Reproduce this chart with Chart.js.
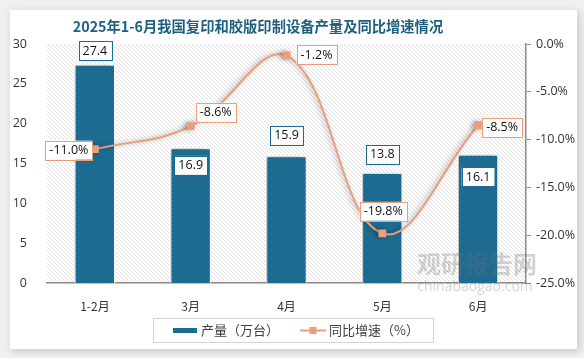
<!DOCTYPE html>
<html>
<head>
<meta charset="utf-8">
<script src="https://cdn.jsdelivr.net/npm/chart.js@4"></script>
<style>
  body { margin: 0; background: #f0f0f0; }
  canvas { display: block; }
</style>
</head>
<body>
<canvas id="myChart" width="584" height="358"></canvas>
<script>
const categories = ['1-2月', '3月', '4月', '5月', '6月'];
const output = [27.4, 16.9, 15.9, 13.8, 16.1];
const growth = [-11.0, -8.6, -1.2, -19.8, -8.5];
const leftTicks = [0, 5, 10, 15, 20, 25, 30];
const rightTicks = [0, -5, -10, -15, -20, -25];

const title = '2025年1-6月我国复印和胶版印制设备产量及同比增速情况';
const barName = '产量（万台）';
const lineName = '同比增速（%）';

const blue = '#1e6b92';
const salmon = '#ea9e7c';
const numFont = '"Open Sans", "Noto Sans CJK SC", sans-serif';
const cjkFont = '"Noto Sans CJK SC", sans-serif';

// label box offsets from the bar top / point (dx, dy of box centre)
const barLabelDy = [-14, 17, -21, -19, 22];
const lineLabelOffset = [[-26, 1], [25, -14], [30, -1], [1, -22], [24, 2]];

function labelBox(ctx, text, cx, cy, border) {
  ctx.font = '12.5px ' + numFont;
  const w = ctx.measureText(text).width + 8;
  const h = 19;
  ctx.fillStyle = '#fff';
  ctx.fillRect(cx - w / 2, cy - h / 2, w, h);
  ctx.strokeStyle = border;
  ctx.lineWidth = 1;
  ctx.strokeRect(Math.round(cx - w / 2) + 0.5, Math.round(cy - h / 2) + 0.5, Math.round(w), h);
  ctx.fillStyle = '#111';
  ctx.textAlign = 'center';
  ctx.textBaseline = 'middle';
  ctx.fillText(text, cx, cy + 0.5);
}

const decor = {
  id: 'decor',
  beforeDraw(chart) {
    const ctx = chart.ctx;
    const a = chart.chartArea;
    ctx.save();
    ctx.fillStyle = '#f0f0f0';
    ctx.fillRect(0, 0, chart.width, chart.height);
    ctx.shadowColor = 'rgba(0,0,0,0.18)';
    ctx.shadowBlur = 8;
    ctx.shadowOffsetX = 2;
    ctx.shadowOffsetY = 2;
    ctx.fillStyle = '#fff';
    ctx.fillRect(10, 10, 567, 339);
    ctx.restore();

    // hatched plot background
    ctx.save();
    ctx.beginPath();
    ctx.rect(a.left, a.top, a.right - a.left, a.bottom - a.top);
    ctx.clip();
    ctx.strokeStyle = '#dadada';
    ctx.lineWidth = 0.8;
    const h = a.bottom - a.top;
    ctx.beginPath();
    for (let i = -h; i < a.right - a.left; i += 4) {
      ctx.moveTo(a.left + i, a.top);
      ctx.lineTo(a.left + i + h, a.bottom);
    }
    ctx.stroke();
    ctx.restore();

    ctx.save();
    ctx.font = 'bold 14.3px ' + cjkFont;
    ctx.fillStyle = '#1f5f80';
    ctx.textAlign = 'center';
    ctx.textBaseline = 'middle';
    ctx.fillText(title, 258, 27);
    ctx.restore();
  },
  beforeDatasetDraw(chart) {
    const ctx = chart.ctx;
    ctx.save();
    ctx.shadowColor = 'rgba(0,0,0,0.35)';
    ctx.shadowBlur = 5;
    ctx.shadowOffsetX = -2;
  },
  afterDatasetDraw(chart) {
    chart.ctx.restore();
  },
  afterDatasetsDraw(chart) {
    const ctx = chart.ctx;
    ctx.save();
    // watermark
    ctx.fillStyle = 'rgba(110,110,110,0.3)';
    ctx.textAlign = 'center';
    ctx.textBaseline = 'middle';
    ctx.font = 'bold 24px ' + cjkFont;
    ctx.fillText('观研报告网', 477, 264);
    ctx.font = '14px ' + numFont;
    ctx.fillText('chinabaogao.com', 475, 287);

    const bars = chart.getDatasetMeta(1).data;
    bars.forEach((el, i) => {
      labelBox(ctx, output[i].toFixed(1), el.x, el.y + barLabelDy[i], blue);
    });
    const pts = chart.getDatasetMeta(0).data;
    pts.forEach((el, i) => {
      labelBox(ctx, growth[i].toFixed(1) + '%', el.x + lineLabelOffset[i][0], el.y + lineLabelOffset[i][1], salmon);
    });

    // legend
    ctx.strokeStyle = '#d4d4d4';
    ctx.lineWidth = 1;
    ctx.strokeRect(153.5, 318.5, 280, 24);
    ctx.fillStyle = blue;
    ctx.fillRect(173, 328, 24, 5);
    ctx.fillStyle = '#404040';
    ctx.font = '13px ' + cjkFont;
    ctx.textAlign = 'left';
    ctx.fillText(barName, 201, 330.5);
    ctx.strokeStyle = salmon;
    ctx.lineWidth = 2;
    ctx.beginPath();
    ctx.moveTo(300, 330.5);
    ctx.lineTo(326, 330.5);
    ctx.stroke();
    ctx.fillStyle = salmon;
    ctx.fillRect(309.5, 327, 7, 7);
    ctx.fillStyle = '#404040';
    ctx.fillText(lineName, 329, 330.5);
    ctx.restore();
  }
};

const ctx = document.getElementById('myChart');

const data = {
  labels: categories,
  datasets: [
    {
      type: 'line',
      label: lineName,
      data: growth,
      yAxisID: 'y1',
      borderColor: salmon,
      backgroundColor: salmon,
      borderWidth: 2,
      tension: 0.4,
      pointStyle: 'rect',
      pointRadius: 5.5,
      pointBorderWidth: 0,
      order: 0
    },
    {
      type: 'bar',
      label: barName,
      data: output,
      yAxisID: 'y',
      backgroundColor: blue,
      borderColor: '#fff',
      borderWidth: 1,
      barPercentage: 0.42,
      categoryPercentage: 1,
      order: 1
    }
  ]
};

const config = {
  data: data,
  options: {
    responsive: false,
    animation: false,
    layout: { padding: { top: 44, left: 0, right: 0, bottom: 0 } },
    plugins: {
      legend: { display: false },
      title: { display: false },
      tooltip: { enabled: false }
    },
    scales: {
      x: {
        grid: { display: false },
        border: { color: '#8c8c8c', width: 1.5 },
        ticks: { color: '#333', font: { size: 12, family: cjkFont }, padding: 8 },
        afterFit(s) { s.height = 75; }
      },
      y: {
        position: 'left',
        min: 0,
        max: 30,
        grid: { display: false },
        border: { display: false },
        afterBuildTicks(s) { s.ticks = leftTicks.map(v => ({ value: v })); },
        ticks: { color: '#333', font: { size: 12.5, family: numFont }, padding: 12 },
        afterFit(s) { s.width = 47; }
      },
      y1: {
        position: 'right',
        min: -25,
        max: 0,
        grid: { drawOnChartArea: false, drawTicks: true, tickLength: 5, color: '#8c8c8c' },
        border: { color: '#8c8c8c', width: 1.5 },
        afterBuildTicks(s) { s.ticks = rightTicks.map(v => ({ value: v })); },
        ticks: {
          color: '#333',
          font: { size: 12.5, family: numFont },
          padding: 5,
          callback: v => v.toFixed(1) + '%'
        },
        afterFit(s) { s.width = 58; }
      }
    }
  },
  plugins: [decor]
};

const myChart = new Chart(ctx, config);
</script>
</body>
</html>
